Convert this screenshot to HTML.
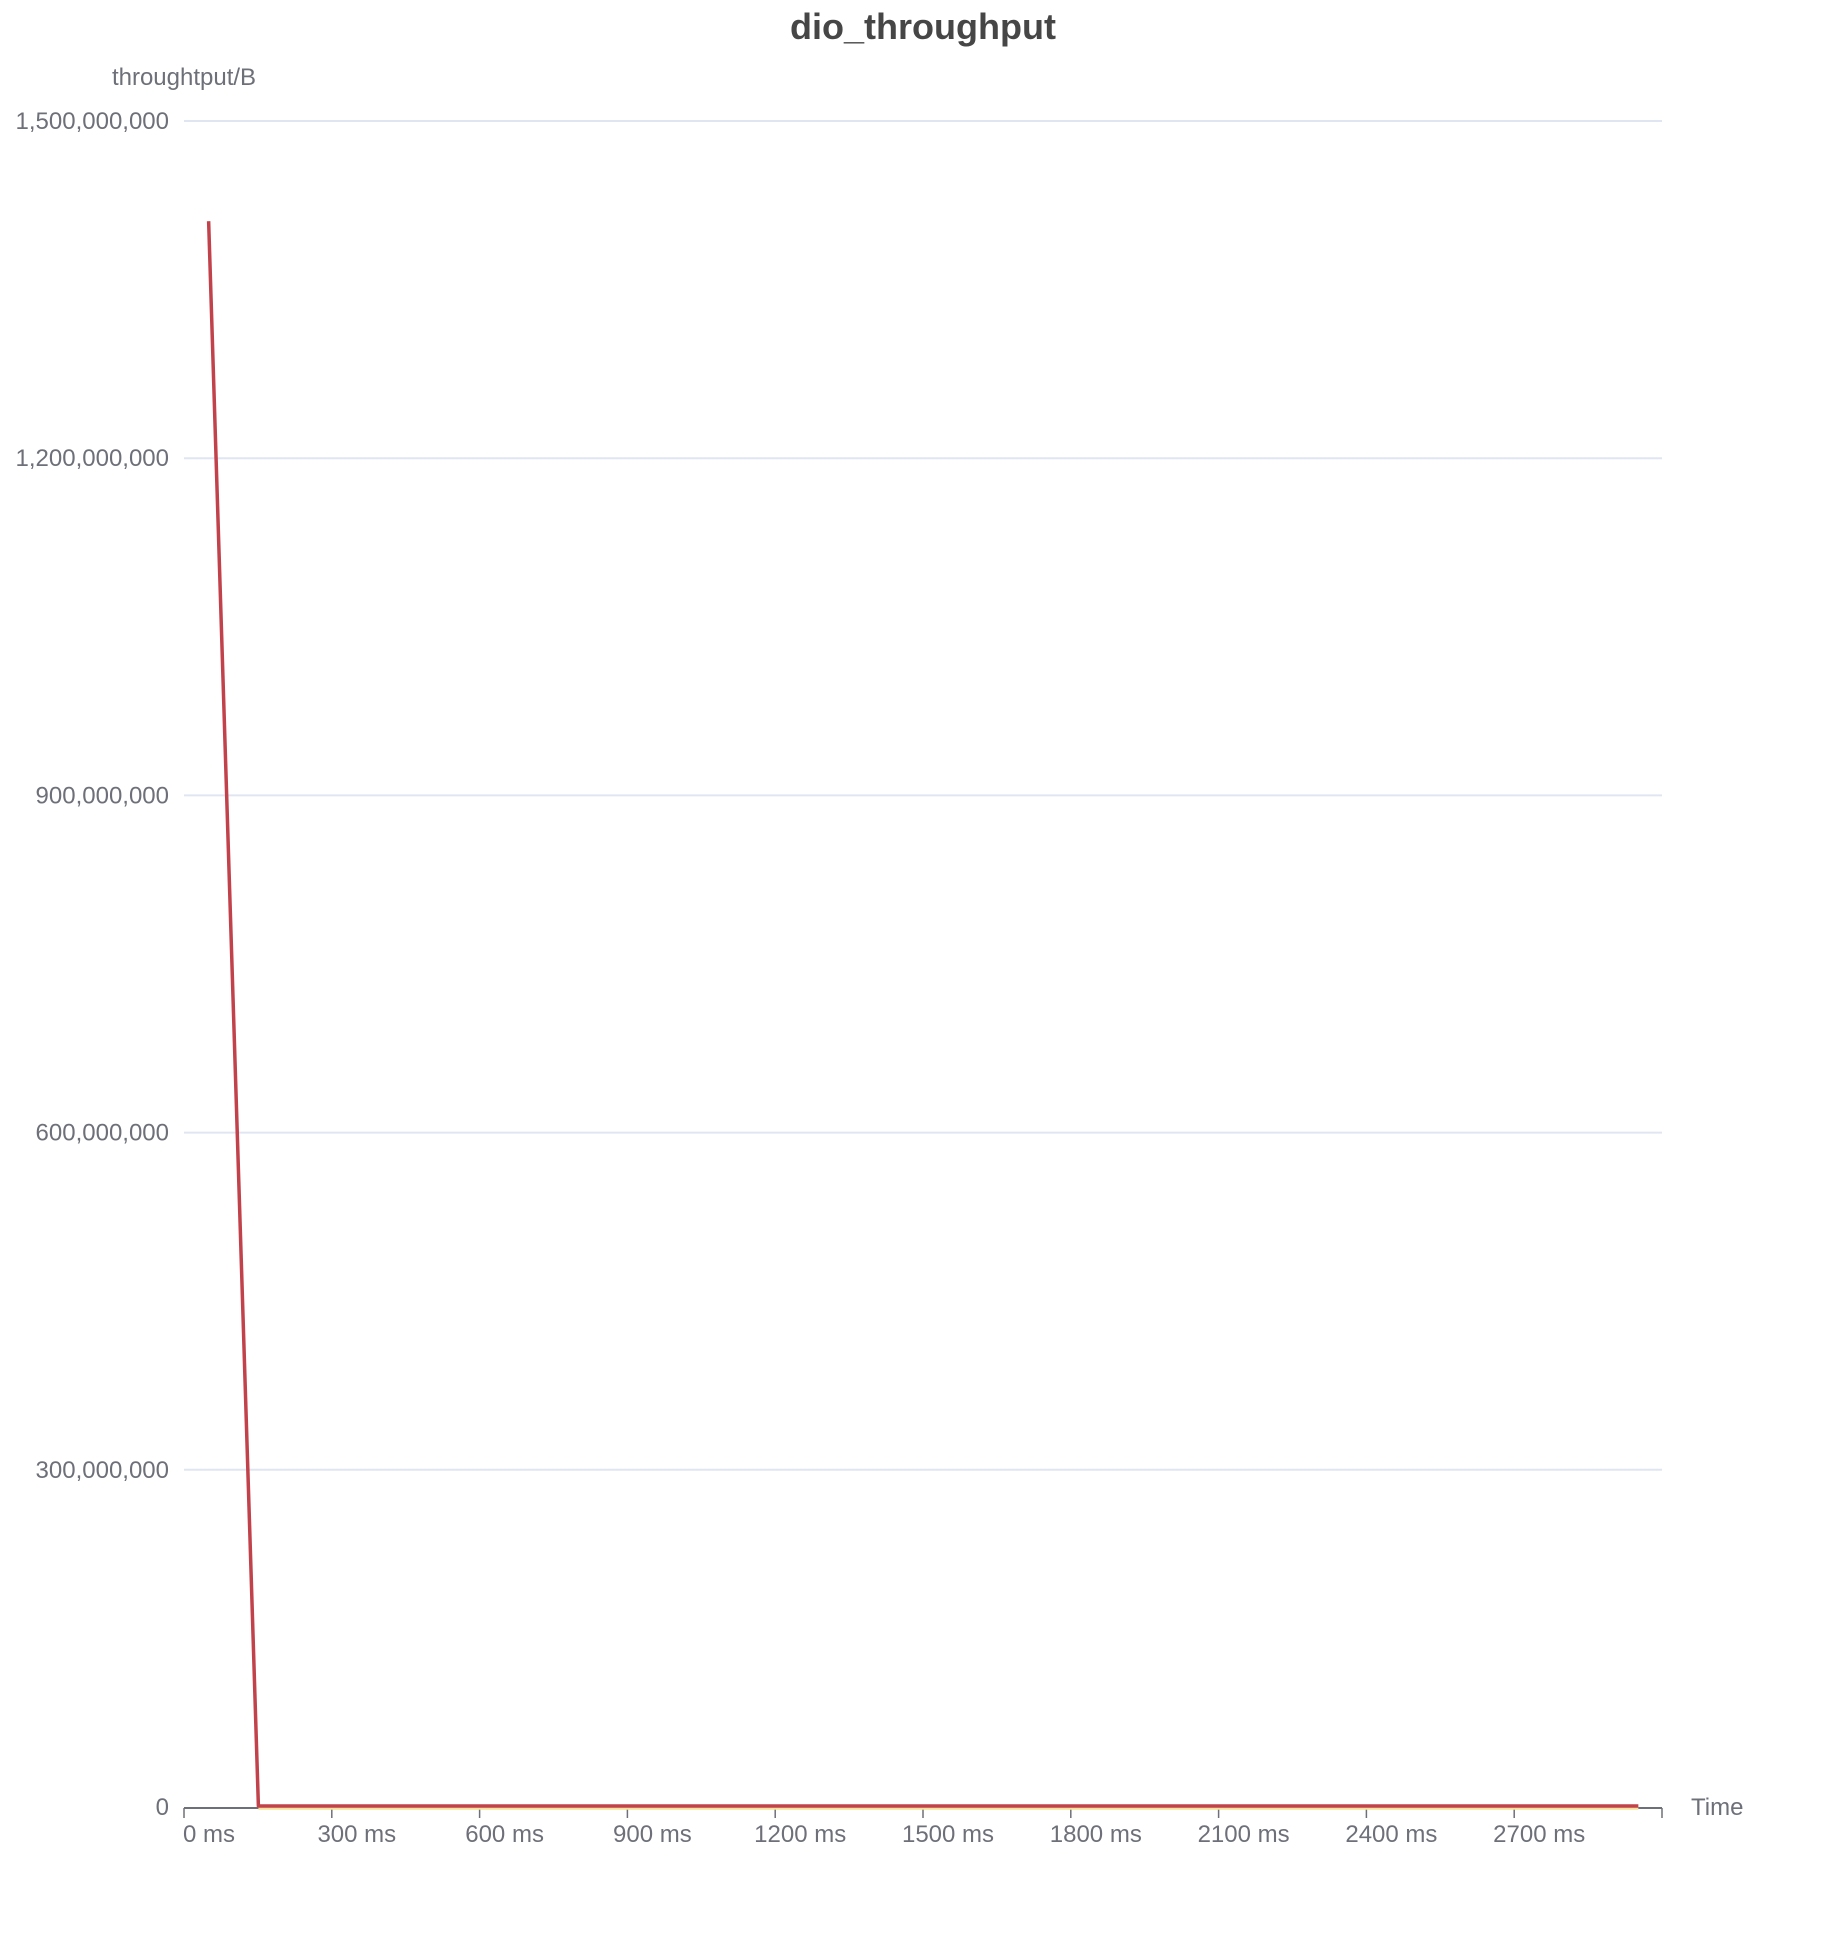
<!DOCTYPE html>
<html><head><meta charset="utf-8"><style>
html,body{margin:0;padding:0;background:#fff}
svg{display:block}
text{font-family:"Liberation Sans",sans-serif}
</style></head><body>
<svg id="chart" width="1846" height="1948" viewBox="0 0 1846 1948" xmlns="http://www.w3.org/2000/svg">
<text x="923" y="39" text-anchor="middle" font-size="36" font-weight="bold" fill="#464646">dio_throughput</text>
<text x="184" y="85" text-anchor="middle" font-size="24" fill="#6e7079">throughtput/B</text>
<text x="1691" y="1815" font-size="24" fill="#6e7079">Time</text>
<g id="grid"></g><g id="xaxis"></g><g id="series"></g>
</svg>
<script>
const yTicks=[0,300000000,600000000,900000000,1200000000,1500000000];
const yTickLabels=["0","300,000,000","600,000,000","900,000,000","1,200,000,000","1,500,000,000"];
const xTicks=[0,300,600,900,1200,1500,1800,2100,2400,2700];
const xTickLabels=["0 ms","300 ms","600 ms","900 ms","1200 ms","1500 ms","1800 ms","2100 ms","2400 ms","2700 ms"];
const redTimes=[50,151,2952];
const redValues=[1410000000,0,0];
const yellowTimes=[151,2952];
const yellowValues=[0,0];
const NS="http://www.w3.org/2000/svg";
const L=184,R=1662,T=121,B=1807;
const xs=t=>L+(t/3000)*(R-L);
const ys=v=>B-(v/1500000000)*(B-T);
function mk(tag,parent){const e=document.createElementNS(NS,tag);document.getElementById(parent).appendChild(e);return e;}
yTicks.forEach((v,i)=>{
  if(v>0){const g=mk('line','grid');
  
  
  g.setAttribute('x1',L);g.setAttribute('x2',R);g.setAttribute('y1',ys(v));g.setAttribute('y2',ys(v));g.setAttribute('stroke','#e0e6f1');g.setAttribute('stroke-width','2');}
  const t=mk('text','grid');
  
  
  t.setAttribute('x',169);t.setAttribute('y',ys(v)+8);t.setAttribute('text-anchor','end');t.setAttribute('font-size','24');t.setAttribute('fill','#6e7079');t.textContent=yTickLabels[i];
});
const ax=mk('line','xaxis');


ax.setAttribute('x1',L);ax.setAttribute('x2',R);ax.setAttribute('y1',B+1);ax.setAttribute('y2',B+1);ax.setAttribute('stroke','#6e7079');ax.setAttribute('stroke-width','2');
xTicks.concat([3000]).forEach((v,i)=>{
  const k=mk('line','xaxis');
  
  
  k.setAttribute('x1',xs(v));k.setAttribute('x2',xs(v));k.setAttribute('y1',B+1);k.setAttribute('y2',B+11);k.setAttribute('stroke','#6e7079');k.setAttribute('stroke-width','1.5');
  if(i<xTickLabels.length){const t=mk('text','xaxis');
  
  
  t.setAttribute('x',xs(v)+25);t.setAttribute('y',1842);t.setAttribute('text-anchor','middle');t.setAttribute('font-size','24');t.setAttribute('fill','#6e7079');t.textContent=xTickLabels[i];}
});
function line(ts,vs,color,name,off){
  const p=mk('polyline','series');
  
  
  p.setAttribute('points',ts.map((t,i)=>xs(t)+','+(ys(vs[i])+off)).join(' '));
  p.setAttribute('fill','none');p.setAttribute('stroke',color);p.setAttribute('stroke-width','3.5');p.setAttribute('stroke-linejoin','round');
}
line(yellowTimes,yellowValues,'#f5e29a','yellow-series-line',1);
line(redTimes,redValues,'#c1424b','red-series-line',-1);
</script>
</body></html>
